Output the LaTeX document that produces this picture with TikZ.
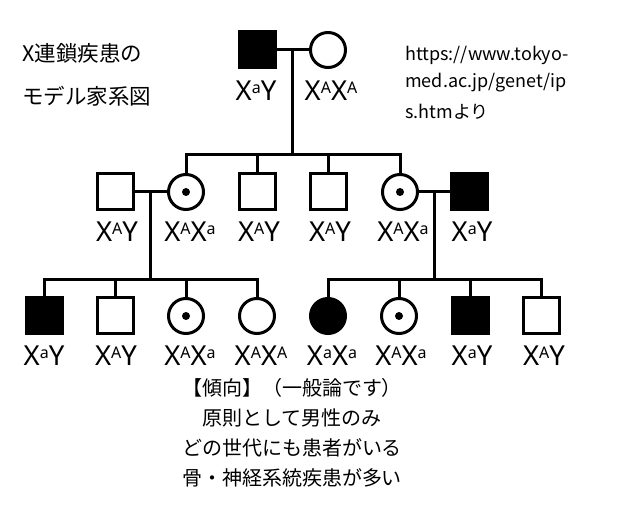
\documentclass[tikz,border=0pt]{standalone}
\usepackage{fontspec}
\setmainfont{Noto Sans CJK JP}
\newfontfamily\latinf{Noto Sans}
\usetikzlibrary{calc}
\newcommand{\gsup}[1]{\raisebox{7.5pt}{\fontsize{16pt}{16pt}\selectfont #1}}
\tikzset{
  ln/.style={line width=3pt},
  sym/.style={draw, line width=3pt, inner sep=0pt, outer sep=0pt},
  male/.style={sym, rectangle, minimum width=36pt, minimum height=36pt},
  female/.style={sym, circle, minimum size=35pt},
  affected/.style={fill=black},
  carrier/.style={female, path picture={\fill (path picture bounding box.center) circle[radius=4pt];}},
  lab/.style={anchor=base, inner sep=0pt, font=\latinf\fontsize{27.5pt}{27.5pt}\selectfont},
  jtxt/.style={inner sep=0pt, font=\fontsize{20pt}{30pt}\selectfont},
  ttl/.style={inner sep=0pt, anchor=west, font=\fontsize{21.5pt}{21.5pt}\selectfont},
  url/.style={inner sep=0pt, anchor=west, font=\fontsize{18pt}{18pt}\selectfont},
}
\begin{document}
\begin{tikzpicture}[x=1pt, y=-1pt]
\useasboundingbox (0,0) rectangle (630,510);
\fill[white] (0,0) rectangle (630,510);
% generation 1
\node[male, affected] (g1m) at (257,50) {};
\node[female] (g1f) at (328,50) {};
% generation 2
\node[male] (g2a) at (115,192) {};
\node[carrier] (g2b) at (186,192) {};
\node[male] (g2c) at (257,192) {};
\node[male] (g2d) at (328,192) {};
\node[carrier] (g2e) at (400,192) {};
\node[male, affected] (g2f) at (469,192) {};
% generation 3
\node[male, affected] (g3a) at (44,316) {};
\node[male] (g3b) at (115,316) {};
\node[carrier] (g3c) at (186,316) {};
\node[female] (g3d) at (257,316) {};
\node[female, affected] (g3e) at (328,316) {};
\node[carrier] (g3f) at (399,316) {};
\node[male, affected] (g3g) at (470,316) {};
\node[male] (g3h) at (541,316) {};
% marriages
\coordinate (m1) at ($(g1m.east)!0.5!(g1f.west)$);
\coordinate (m2) at ($(g2a.east)!0.5!(g2b.west)$);
\coordinate (m3) at ($(g2e.east)!0.5!(g2f.west)$);
\draw[ln] (g1m.east) -- (g1f.west);
\draw[ln] (g2a.east) -- (g2b.west);
\draw[ln] (g2e.east) -- (g2f.west);
% sibship bars
\coordinate (s1) at (292,155);
\coordinate (s2) at (150,280);
\coordinate (s3) at (433,280);
\draw[ln] (m1) -- (m1 |- s1);
\draw[ln] (m2) -- (m2 |- s2);
\draw[ln] (m3) -- (m3 |- s3);
\draw[ln, line join=miter] (g2b.north) -- (g2b.north |- s1) -- (g2e.north |- s1) -- (g2e.north);
\draw[ln] (g2c.north) -- (g2c.north |- s1);
\draw[ln] (g2d.north) -- (g2d.north |- s1);
\draw[ln, line join=miter] (g3a.north) -- (g3a.north |- s2) -- (g3d.north |- s2) -- (g3d.north);
\draw[ln] (g3b.north) -- (g3b.north |- s2);
\draw[ln] (g3c.north) -- (g3c.north |- s2);
\draw[ln, line join=miter] (g3e.north) -- (g3e.north |- s3) -- (g3h.north |- s3) -- (g3h.north);
\draw[ln] (g3f.north) -- (g3f.north |- s3);
\draw[ln] (g3g.north) -- (g3g.north |- s3);
% genotype labels
\node[lab] (l1m) at (256,101) {X\gsup{a}Y};
\node[lab] (l1f) at (331,101) {X\gsup{A}X\gsup{A}};
\node[lab] (l2a) at (117,242) {X\gsup{A}Y};
\node[lab] (l2b) at (190,242) {X\gsup{A}X\gsup{a}};
\node[lab] (l2c) at (259,242) {X\gsup{A}Y};
\node[lab] (l2d) at (330,242) {X\gsup{A}Y};
\node[lab] (l2e) at (403,242) {X\gsup{A}X\gsup{a}};
\node[lab] (l2f) at (472,242) {X\gsup{a}Y};
\node[lab] (l3a) at (44,366) {X\gsup{a}Y};
\node[lab] (l3b) at (116,366) {X\gsup{A}Y};
\node[lab] (l3c) at (190,366) {X\gsup{A}X\gsup{a}};
\node[lab] (l3d) at (261,366) {X\gsup{A}X\gsup{A}};
\node[lab] (l3e) at (332,366) {X\gsup{a}X\gsup{a}};
\node[lab] (l3f) at (401,366) {X\gsup{A}X\gsup{a}};
\node[lab] (l3g) at (472,366) {X\gsup{a}Y};
\node[lab] (l3h) at (544,366) {X\gsup{A}Y};
% titles
\node[ttl] (t1) at (22,53) {X連鎖疾患の};
\node[ttl] (t2) at (22,96) {モデル家系図};
\node[url] (u1) at (405,55) {https://www.tokyo-};
\node[url] (u2) at (405,83) {med.ac.jp/genet/ip};
\node[url] (u3) at (405,112) {s.htmより};
% bottom text
\node[jtxt] (b1) at (292,388) {【傾向】（一般論です）};
\node[jtxt] (b2) at (292,418) {原則として男性のみ};
\node[jtxt] (b3) at (292,448) {どの世代にも患者がいる};
\node[jtxt] (b4) at (292,478) {骨・神経系統疾患が多い};
\end{tikzpicture}
\end{document}
